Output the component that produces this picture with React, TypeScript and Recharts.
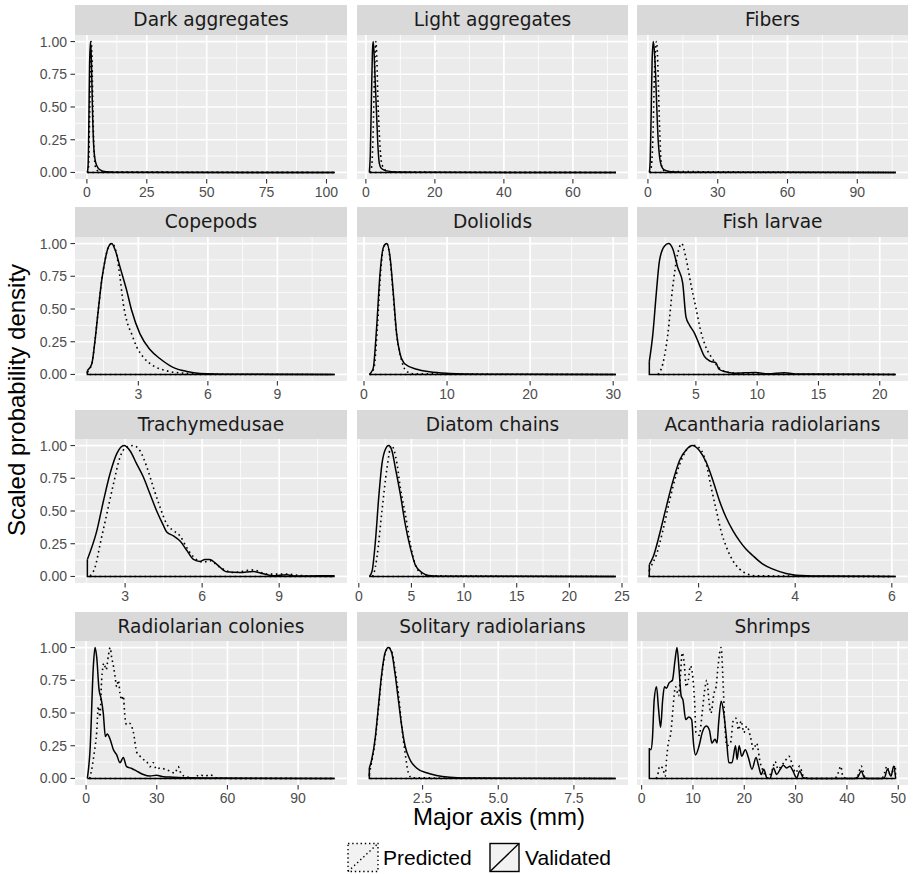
import React from "react";
import { LineChart, Line, XAxis, YAxis, CartesianGrid } from "recharts";

type Pt = [number, number];

// ---------- data (x = major axis mm, y = scaled density) ----------
const darkAggregatesPredicted: Pt[] = [[0.2,0],[0.7,0.05],[1.1,0.4],[1.5,0.85],[1.8,1.0],[2.1,0.9],[2.4,0.6],[2.8,0.25],[3.3,0.08],[4,0.02],[6,0.004],[103.4,0]];
const darkAggregatesValidated: Pt[] = [[0.2,0],[0.5,0.05],[0.8,0.35],[1.1,0.8],[1.5,1.0],[1.9,0.85],[2.3,0.5],[2.8,0.22],[3.4,0.1],[4.2,0.05],[5.5,0.02],[8,0.006],[15,0.001],[103.4,0]];

const lightAggregatesPredicted: Pt[] = [[1.2,0],[1.7,0.05],[2.1,0.3],[2.5,0.75],[2.9,1.0],[3.2,0.85],[3.5,0.55],[3.9,0.3],[4.4,0.1],[5.0,0.04],[6,0.012],[8,0.003],[72.4,0]];
const lightAggregatesValidated: Pt[] = [[1.0,0],[1.3,0.15],[1.6,0.55],[1.9,0.92],[2.12,1.0],[2.4,0.9],[2.7,0.7],[3.1,0.45],[3.5,0.2],[3.9,0.07],[4.5,0.03],[6,0.012],[9,0.004],[20,0.001],[72.4,0]];

const fibersPredicted: Pt[] = [[0.8,0],[1.5,0.05],[2.2,0.3],[2.8,0.75],[3.3,0.95],[3.7,1.0],[4.1,0.9],[4.6,0.6],[5.1,0.3],[5.6,0.1],[6.2,0.03],[7.5,0.008],[106.5,0]];
const fibersValidated: Pt[] = [[0.6,0],[1.0,0.1],[1.4,0.45],[1.8,0.85],[2.3,1.0],[2.8,0.92],[3.3,0.75],[3.8,0.5],[4.4,0.25],[5.0,0.12],[5.8,0.05],[7,0.02],[10,0.006],[20,0.002],[106.5,0]];

const copepodsPredicted: Pt[] = [[0.8,0.02],[0.99,0.08],[1.13,0.26],[1.27,0.49],[1.42,0.72],[1.56,0.87],[1.7,0.97],[1.87,1.0],[2.06,0.92],[2.21,0.74],[2.35,0.54],[2.5,0.41],[2.71,0.31],[2.93,0.21],[3.22,0.13],[3.65,0.066],[4.22,0.028],[4.94,0.01],[6,0.003],[11.3,0]];
const copepodsValidated: Pt[] = [[0.8,0.03],[0.99,0.08],[1.13,0.26],[1.27,0.49],[1.42,0.72],[1.56,0.87],[1.7,0.97],[1.85,1.0],[2.0,0.95],[2.21,0.82],[2.5,0.64],[2.71,0.49],[3.07,0.31],[3.5,0.19],[3.94,0.12],[4.5,0.054],[5.09,0.023],[5.66,0.008],[7,0.002],[11.47,0]];

const doliolidsPredicted: Pt[] = [[0.7,0],[1.2,0.05],[1.6,0.35],[2.0,0.78],[2.4,0.98],[2.75,1.0],[3.1,0.9],[3.5,0.62],[3.9,0.32],[4.3,0.17],[4.7,0.07],[5.2,0.02],[6,0.005],[30.3,0]];
const doliolidsValidated: Pt[] = [[0.64,0],[0.9,0.02],[1.12,0.05],[1.52,0.36],[1.93,0.77],[2.33,0.97],[2.73,1.0],[3.13,0.9],[3.53,0.62],[3.93,0.31],[4.33,0.16],[4.93,0.08],[6.34,0.04],[7.9,0.02],[10.3,0.008],[14,0.002],[30.3,0]];

const fishLarvaePredicted: Pt[] = [[1.9,0],[2.3,0.08],[2.7,0.3],[3.1,0.66],[3.51,0.92],[3.84,1.0],[4.19,0.89],[4.59,0.69],[5.0,0.51],[5.4,0.33],[5.81,0.21],[6.35,0.12],[6.89,0.05],[7.7,0.015],[9.6,0.003],[21.3,0]];
const fishLarvaeValidated: Pt[] = [[1.2,0.1],[1.49,0.31],[1.76,0.61],[2.03,0.87],[2.43,0.98],[2.78,1.0],[3.11,0.96],[3.51,0.82],[3.92,0.7],[4.19,0.44],[4.46,0.38],[4.86,0.32],[5.27,0.23],[5.68,0.14],[6.2,0.1],[6.62,0.09],[6.89,0.04],[7.43,0.02],[8.1,0.01],[9.86,0.015],[10.9,0.005],[12.2,0.013],[13.4,0.003],[21.3,0]];

const trachymedusaePredicted: Pt[] = [[1.64,0.005],[1.83,0.07],[2.03,0.25],[2.29,0.48],[2.55,0.71],[2.8,0.91],[3.06,0.99],[3.32,1.0],[3.58,0.96],[3.84,0.84],[4.1,0.68],[4.36,0.53],[4.62,0.4],[4.88,0.35],[5.14,0.31],[5.4,0.22],[5.66,0.15],[6.05,0.11],[6.3,0.12],[6.69,0.07],[7.21,0.03],[7.99,0.05],[8.5,0.018],[9.28,0.018],[9.8,0.008],[11.16,0]];
const trachymedusaeValidated: Pt[] = [[1.53,0.13],[1.9,0.35],[2.16,0.58],[2.42,0.79],[2.68,0.94],[2.96,1.0],[3.19,0.96],[3.45,0.86],[3.71,0.76],[3.97,0.63],[4.23,0.5],[4.49,0.39],[4.62,0.34],[4.88,0.31],[5.14,0.27],[5.4,0.2],[5.66,0.13],[5.92,0.115],[6.11,0.13],[6.3,0.13],[6.56,0.095],[6.95,0.036],[7.47,0.03],[7.99,0.038],[8.38,0.02],[8.77,0.005],[9.28,0.013],[9.67,0.003],[10.6,0.005],[11.16,0.005]];

const diatomChainsPredicted: Pt[] = [[1.3,0],[1.42,0.02],[1.73,0.15],[2.2,0.5],[2.68,0.83],[3.1,1.0],[3.63,0.86],[3.94,0.68],[4.41,0.48],[4.89,0.25],[5.36,0.09],[5.83,0.03],[6.46,0.005],[24.4,0]];
const diatomChainsValidated: Pt[] = [[1.0,0],[1.26,0.04],[1.58,0.27],[1.89,0.6],[2.2,0.86],[2.52,0.97],[2.84,1.0],[3.15,0.96],[3.47,0.83],[3.94,0.63],[4.41,0.4],[4.89,0.22],[5.36,0.09],[5.99,0.03],[6.62,0.008],[7.7,0.002],[24.4,0]];

const acanthariaPredicted: Pt[] = [[0.98,0.05],[1.02,0.08],[1.13,0.17],[1.26,0.35],[1.4,0.58],[1.54,0.78],[1.68,0.92],[1.81,0.99],[1.92,1.0],[2.06,0.96],[2.16,0.86],[2.26,0.68],[2.37,0.5],[2.47,0.34],[2.57,0.23],[2.71,0.12],[2.85,0.056],[3.02,0.018],[3.19,0.005],[6.0,0]];
const acanthariaValidated: Pt[] = [[0.98,0.09],[1.06,0.15],[1.19,0.32],[1.33,0.53],[1.47,0.73],[1.61,0.89],[1.75,0.97],[1.87,1.0],[2.02,0.96],[2.16,0.87],[2.3,0.73],[2.43,0.58],[2.57,0.45],[2.71,0.35],[2.85,0.27],[2.98,0.21],[3.12,0.16],[3.33,0.094],[3.54,0.056],[3.81,0.023],[4.02,0.01],[4.5,0.003],[6.08,0]];

const radColoniesPredicted: Pt[] = [[1.5,0],[2.4,0.07],[3.5,0.2],[4.5,0.35],[5.2,0.55],[5.9,0.47],[6.6,0.75],[7.6,0.88],[8.5,0.83],[9.5,0.94],[10.2,1.0],[10.9,0.92],[11.6,0.86],[12.3,0.78],[13,0.7],[13.7,0.75],[14.4,0.65],[15.1,0.6],[15.8,0.63],[16.5,0.47],[17.2,0.41],[18.6,0.42],[20.1,0.35],[21.5,0.2],[22.9,0.17],[24.3,0.145],[25.7,0.13],[27.1,0.09],[28.5,0.12],[29.9,0.07],[31.4,0.08],[33.5,0.07],[35.6,0.056],[37.7,0.04],[39.1,0.09],[40.5,0.03],[42.7,0.013],[45.5,0.004],[48.3,0.028],[50.4,0.018],[52.5,0.028],[55.4,0.005],[60,0.001],[105.5,0]];
const radColoniesValidated: Pt[] = [[0.55,0],[1.7,0.22],[3.1,0.86],[3.8,1.0],[4.5,0.93],[5.5,0.68],[6.4,0.61],[7.3,0.5],[8.2,0.32],[9.0,0.34],[10.2,0.3],[11.6,0.22],[13,0.18],[14.4,0.12],[15.8,0.16],[17.2,0.09],[19.4,0.076],[21.5,0.056],[24.3,0.03],[27.1,0.018],[29.9,0.025],[32.8,0.013],[37,0.01],[42.7,0.005],[55,0.003],[105.5,0]];

const solitaryPredicted: Pt[] = [[0.74,0.03],[0.82,0.13],[0.93,0.28],[1.04,0.53],[1.15,0.78],[1.26,0.95],[1.37,1.0],[1.48,0.97],[1.59,0.83],[1.7,0.65],[1.81,0.4],[1.92,0.2],[2.03,0.043],[2.14,0.005],[8.8,0]];
const solitaryValidated: Pt[] = [[0.74,0.08],[0.82,0.145],[0.93,0.3],[1.04,0.55],[1.15,0.8],[1.26,0.96],[1.37,1.0],[1.48,0.96],[1.59,0.8],[1.7,0.6],[1.81,0.4],[1.92,0.25],[2.08,0.145],[2.3,0.08],[2.63,0.043],[2.96,0.023],[3.4,0.01],[4.17,0.003],[8.88,0]];

const shrimpsPredicted: Pt[] = [[2.8,0],[3.1,0.02],[3.5,0.094],[4.1,0.08],[4.6,0.018],[4.85,0.145],[5.2,0.27],[5.7,0.35],[6.1,0.53],[6.6,0.7],[7.2,0.63],[7.55,0.78],[7.9,0.96],[8.3,0.88],[8.7,0.7],[9.1,0.75],[9.5,0.86],[9.9,0.8],[10.3,0.6],[10.6,0.35],[11.2,0.33],[11.8,0.5],[12.3,0.68],[12.7,0.75],[13.1,0.6],[13.5,0.5],[14.1,0.65],[14.5,0.7],[14.9,0.86],[15.2,0.96],[15.5,1.0],[15.8,0.8],[16.2,0.42],[16.6,0.25],[17.3,0.27],[17.9,0.45],[18.4,0.46],[18.9,0.37],[19.4,0.44],[19.9,0.35],[20.5,0.4],[21.2,0.32],[21.8,0.22],[22.4,0.27],[23.1,0.12],[23.7,0.056],[24.4,0.005],[25.5,0.07],[26.0,0.13],[26.6,0.07],[27.3,0.1],[27.9,0.13],[28.7,0.17],[29.4,0.1],[30.0,0.043],[30.8,0.094],[31.5,0.018],[32.5,0],[37.6,0],[38.3,0.043],[38.8,0.094],[39.2,0.018],[40,0],[41.5,0],[42.1,0.02],[42.8,0.094],[43.4,0.018],[44,0],[46.8,0],[47.3,0.04],[47.8,0.094],[48.4,0.03],[49.0,0.06],[49.4,0.1],[49.5,0]];
const shrimpsValidated: Pt[] = [[1.5,0.23],[1.8,0.22],[2.1,0.3],[2.45,0.6],[2.9,0.7],[3.3,0.53],[3.7,0.39],[4.1,0.6],[4.45,0.7],[4.85,0.69],[5.35,0.73],[6.0,0.75],[6.5,0.9],[6.9,1.0],[7.3,0.83],[7.7,0.63],[8.05,0.6],[8.6,0.45],[9.2,0.47],[9.75,0.45],[10.1,0.27],[10.5,0.18],[11.2,0.25],[11.8,0.35],[12.6,0.4],[13.2,0.37],[13.7,0.27],[14.3,0.3],[14.7,0.27],[15.0,0.42],[15.5,0.59],[16.0,0.5],[16.5,0.32],[17.0,0.12],[17.6,0.12],[18.3,0.25],[18.6,0.145],[19.0,0.25],[19.5,0.17],[20.2,0.22],[20.8,0.16],[21.5,0.07],[22.3,0.16],[22.8,0.094],[23.3,0.03],[23.8,0.07],[24.4,0.005],[25.0,0],[25.7,0.08],[26.3,0.03],[27.0,0.07],[27.6,0.1],[28.3,0.08],[28.9,0.094],[29.5,0.056],[30.2,0.005],[30.8,0.056],[31.5,0.005],[32.5,0],[41.5,0],[42.1,0.01],[42.8,0.056],[43.4,0.005],[44,0],[46.8,0],[47.3,0.005],[47.9,0.07],[48.6,0.018],[49.1,0.094],[49.5,0]];

const facetTitles = ["Dark aggregates", "Light aggregates", "Fibers", "Copepods", "Doliolids", "Fish larvae", "Trachymedusae", "Diatom chains", "Acantharia radiolarians", "Radiolarian colonies", "Solitary radiolarians", "Shrimps"];

const xTickLabels: string[][] = [
  ["0", "25", "50", "75", "100"],
  ["0", "20", "40", "60"],
  ["0", "30", "60", "90"],
  ["3", "6", "9"],
  ["0", "10", "20", "30"],
  ["5", "10", "15", "20"],
  ["3", "6", "9"],
  ["0", "5", "10", "15", "20", "25"],
  ["2", "4", "6"],
  ["0", "30", "60", "90"],
  ["2.5", "5.0", "7.5"],
  ["0", "10", "20", "30", "40", "50"],
];

const yTickLabels = ["0.00", "0.25", "0.50", "0.75", "1.00"];

const predictedSeries: Pt[][] = [darkAggregatesPredicted, lightAggregatesPredicted, fibersPredicted, copepodsPredicted, doliolidsPredicted, fishLarvaePredicted, trachymedusaePredicted, diatomChainsPredicted, acanthariaPredicted, radColoniesPredicted, solitaryPredicted, shrimpsPredicted];
const validatedSeries: Pt[][] = [darkAggregatesValidated, lightAggregatesValidated, fibersValidated, copepodsValidated, doliolidsValidated, fishLarvaeValidated, trachymedusaeValidated, diatomChainsValidated, acanthariaValidated, radColoniesValidated, solitaryValidated, shrimpsValidated];

// ---------- layout ----------
const PANEL_LEFTS = [75, 357, 637];
const PANEL_WIDTHS = [272, 271, 271];
const PANEL_TOPS = [34.5, 236.8, 439.1, 641.4];
const PANEL_H = 144;
const STRIP_H = 29.5;
const Y_AXIS_W = 67;
const X_AXIS_H = 30;
const SIDE = 12;

const TICK_FONT = "'Liberation Sans', Arial, Helvetica, sans-serif";
const STRIP_FONT = "'DejaVu Sans', Verdana, sans-serif";

const toRows = (pts: Pt[]) => pts.map(([x, y]) => ({ x, y }));
const outline = (pts: Pt[]) => {
  const first = pts[0];
  const last = pts[pts.length - 1];
  return [
    { x: first[0], y: first[1] },
    { x: first[0], y: 0 },
    { x: last[0], y: 0 },
  ];
};

function Facet({ index }: { index: number }) {
  const col = index % 3;
  const row = Math.floor(index / 3);
  const pred = predictedSeries[index];
  const val = validatedSeries[index];
  const labels = xTickLabels[index];
  const ticks = labels.map((l) => parseFloat(l));
  const xs = [...pred, ...val].map((p) => p[0]);
  const a = Math.min(...xs);
  const b = Math.max(...xs);
  const pad = 0.05 * (b - a);
  const domain: [number, number] = [a - pad, b + pad];
  const step = ticks[1] - ticks[0];
  const minors: number[] = [];
  for (let i = -1; i < ticks.length; i++) {
    const m = ticks[0] + step * (i + 0.5);
    if (m > domain[0] && m < domain[1]) minors.push(m);
  }
  const showY = col === 0;
  const left = PANEL_LEFTS[col] - (showY ? Y_AXIS_W : SIDE);
  const width = PANEL_WIDTHS[col] + (showY ? Y_AXIS_W : SIDE) + SIDE;
  const top = PANEL_TOPS[row];
  const yTicks = yTickLabels.map((l) => parseFloat(l));

  const dotted = { stroke: "#000000", strokeWidth: 1.6, strokeDasharray: "1.6 3.4" };
  const solid = { stroke: "#000000", strokeWidth: 1.5 };

  return (
    <>
      <div
        style={{
          position: "absolute",
          left: PANEL_LEFTS[col],
          top: top - STRIP_H,
          width: PANEL_WIDTHS[col],
          height: STRIP_H,
          background: "#D9D9D9",
          color: "#1A1A1A",
          fontFamily: STRIP_FONT,
          fontSize: 18.6,
          lineHeight: `${STRIP_H}px`,
          textAlign: "center",
          whiteSpace: "nowrap",
        }}
      >
        {facetTitles[index]}
      </div>
      <div style={{ position: "absolute", left, top }}>
        <LineChart
          width={width}
          height={PANEL_H + X_AXIS_H}
          margin={{ top: 0, right: SIDE, bottom: 0, left: showY ? 0 : SIDE }}
        >
          <CartesianGrid
            fill="#EBEBEB"
            fillOpacity={1}
            stroke="#FFFFFF"
            strokeWidth={0.8}
            horizontalValues={[0.125, 0.375, 0.625, 0.875]}
            verticalValues={minors}
          />
          <CartesianGrid
            stroke="#FFFFFF"
            strokeWidth={1.7}
            horizontalValues={yTicks}
            verticalValues={ticks}
          />
          <XAxis
            type="number"
            dataKey="x"
            domain={domain}
            allowDataOverflow
            ticks={ticks}
            interval={0}
            tickFormatter={(v: number) => {
              const k = ticks.findIndex((t) => Math.abs(t - v) < 1e-9);
              return k >= 0 ? labels[k] : String(v);
            }}
            axisLine={false}
            tickLine={{ stroke: "#333333", strokeWidth: 1.1 }}
            tickSize={4.5}
            tickMargin={3.5}
            height={X_AXIS_H}
            tick={{ fill: "#4D4D4D", fontSize: 14, fontFamily: TICK_FONT }}
          />
          <YAxis
            type="number"
            domain={[-0.05, 1.05]}
            allowDataOverflow
            ticks={yTicks}
            interval={0}
            hide={!showY}
            width={showY ? Y_AXIS_W : 0}
            tickFormatter={(v: number) => {
              const k = yTicks.findIndex((t) => Math.abs(t - v) < 1e-9);
              return k >= 0 ? yTickLabels[k] : String(v);
            }}
            axisLine={false}
            tickLine={{ stroke: "#333333", strokeWidth: 1.1 }}
            tickSize={4.5}
            tickMargin={3.5}
            tick={{ fill: "#4D4D4D", fontSize: 14, fontFamily: TICK_FONT }}
          />
          <Line data={outline(pred)} dataKey="y" type="linear" {...dotted} dot={false} activeDot={false} isAnimationActive={false} />
          <Line data={toRows(pred)} dataKey="y" type="monotone" {...dotted} dot={false} activeDot={false} isAnimationActive={false} />
          <Line data={outline(val)} dataKey="y" type="linear" {...solid} dot={false} activeDot={false} isAnimationActive={false} />
          <Line data={toRows(val)} dataKey="y" type="monotone" {...solid} dot={false} activeDot={false} isAnimationActive={false} />
        </LineChart>
      </div>
    </>
  );
}

function Legend() {
  return (
    <>
      <svg style={{ position: "absolute", left: 0, top: 0 }} width={913} height={874} pointerEvents="none">
        <rect x={348} y={843.5} width={30} height={28} fill="#F2F2F2" stroke="#000" strokeWidth={1.4} strokeDasharray="1.4 2.8" />
        <line x1={348} y1={871.5} x2={378} y2={843.5} stroke="#000" strokeWidth={1.4} strokeDasharray="1.4 2.8" />
        <rect x={490} y={843.5} width={29} height={28} fill="#F2F2F2" stroke="#000" strokeWidth={1.4} />
        <line x1={490} y1={871.5} x2={519} y2={843.5} stroke="#000" strokeWidth={1.4} />
      </svg>
      <div style={{ position: "absolute", left: 383, top: 858, transform: "translateY(-50%)", fontFamily: TICK_FONT, fontSize: 21, lineHeight: "22px", color: "#000", whiteSpace: "nowrap" }}>
        Predicted
      </div>
      <div style={{ position: "absolute", left: 525, top: 858, transform: "translateY(-50%)", fontFamily: TICK_FONT, fontSize: 21, lineHeight: "22px", color: "#000", whiteSpace: "nowrap" }}>
        Validated
      </div>
    </>
  );
}

export default function App() {
  return (
    <div style={{ position: "absolute", left: 0, top: 0, width: 913, height: 874, background: "#FFFFFF", overflow: "hidden" }}>
      {facetTitles.map((_, i) => (
        <Facet key={i} index={i} />
      ))}
      <div
        style={{
          position: "absolute",
          left: 17,
          top: 400,
          transform: "translate(-50%, -50%) rotate(-90deg)",
          fontFamily: TICK_FONT,
          fontSize: 24,
          lineHeight: "24px",
          color: "#000",
          whiteSpace: "nowrap",
        }}
      >
        Scaled probability density
      </div>
      <div
        style={{
          position: "absolute",
          left: 499,
          top: 817,
          transform: "translate(-50%, -50%)",
          fontFamily: TICK_FONT,
          fontSize: 24,
          lineHeight: "24px",
          color: "#000",
          whiteSpace: "nowrap",
        }}
      >
        Major axis (mm)
      </div>
      <Legend />
    </div>
  );
}
